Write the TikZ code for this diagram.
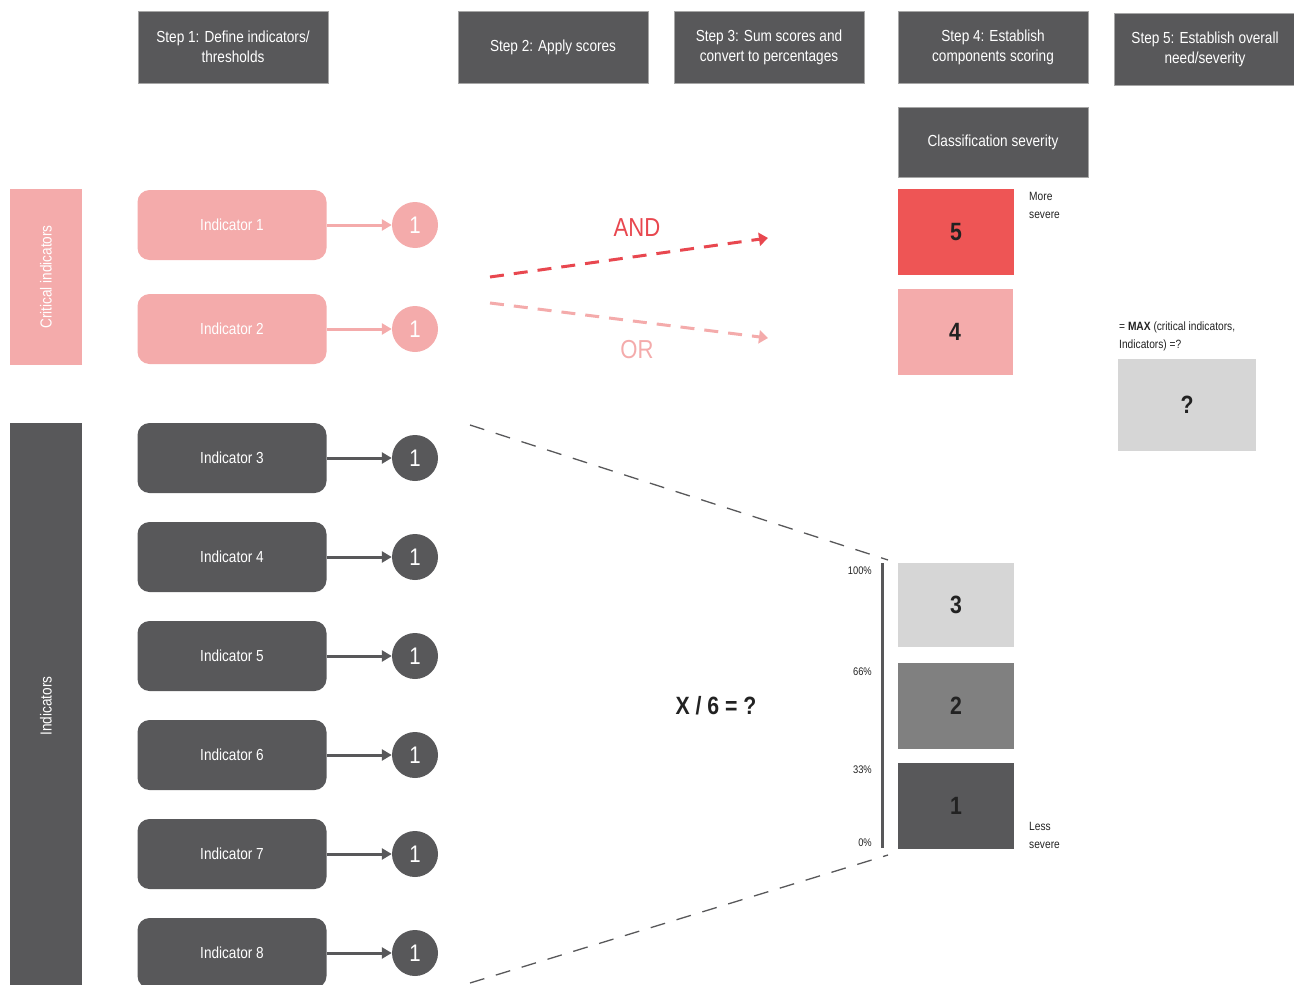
\documentclass[tikz,border=0pt]{standalone}
\usepackage{fontspec}
\setmainfont{Liberation Sans}[FakeStretch=0.85]
\usetikzlibrary{arrows.meta}
\definecolor{dk}{HTML}{58585A}
\definecolor{pk}{HTML}{F4ABAB}
\definecolor{rd}{HTML}{EE5555}
\definecolor{rdt}{HTML}{E8474F}
\definecolor{lg}{HTML}{D6D6D6}
\definecolor{mg}{HTML}{808080}
\definecolor{txk}{HTML}{222222}
\tikzset{
  hdr/.style={rectangle, fill=dk, draw=gray!70, line width=0.8pt, text=white, align=center,
    font=\fontsize{16}{20}\selectfont, minimum width=190pt, minimum height=72pt, inner sep=0pt},
  ind/.style={rectangle, rounded corners=12pt, fill=dk, text=white, minimum width=189pt,
    minimum height=70pt, inner sep=0pt, font=\fontsize{16}{19}\selectfont},
  indc/.style={ind, fill=pk},
  score/.style={circle, fill=dk, text=white, minimum size=46pt, inner sep=0pt,
    font=\fontsize{24}{24}\selectfont},
  scorec/.style={score, fill=pk},
  sev/.style={rectangle, minimum width=116pt, minimum height=86pt, inner sep=0pt,
    text=txk, font=\bfseries\fontsize{25}{25}\selectfont},
  sidebar/.style={rectangle, rotate=90, text=white, inner sep=0pt, font=\fontsize{16}{19}\selectfont},
  arr/.style={draw=dk, line width=3pt, -{Triangle[length=10pt,width=11pt]}},
  arrc/.style={arr, draw=pk},
  logic/.style={line width=3pt, dash pattern=on 14pt off 10pt, -{Triangle[length=9pt,width=13pt]}},
  guide/.style={draw=dk, line width=1.3pt, dash pattern=on 15pt off 12pt},
  small/.style={inner sep=0pt, text=txk, font=\fontsize{12}{18}\selectfont, align=left},
  pct/.style={inner sep=0pt, anchor=east, text=txk, font=\fontsize{11}{13}\selectfont},
}
\begin{document}
\begin{tikzpicture}[x=1pt,y=-1pt]
\useasboundingbox (0,0) rectangle (1294,985);
% headers
\node[hdr] (h1) at (233,47) {Step 1: Define indicators/\\thresholds};
\node[hdr] (h2) at (553,47) {Step 2: Apply scores};
\node[hdr] (h3) at (769,47) {Step 3: Sum scores and\\convert to percentages};
\node[hdr] (h4) at (993,47) {Step 4: Establish\\components scoring};
\node[hdr, minimum width=182pt] (h5) at (1205,49) {Step 5: Establish overall\\need/severity};
\node[hdr, minimum height=70pt] (cls) at (993,142) {Classification severity};
% side bars
\node[sidebar, fill=pk, minimum width=176pt, minimum height=72pt] (crit) at (46,277) {Critical indicators};
\node[sidebar, fill=dk, minimum width=567pt, minimum height=72pt] (inds) at (46,706) {Indicators};
% indicators
\node[indc] (i1) at (232,225) {Indicator 1};
\node[indc] (i2) at (232,329) {Indicator 2};
\node[ind] (i3) at (232,458) {Indicator 3};
\node[ind] (i4) at (232,557) {Indicator 4};
\node[ind] (i5) at (232,656) {Indicator 5};
\node[ind] (i6) at (232,755) {Indicator 6};
\node[ind] (i7) at (232,854) {Indicator 7};
\node[ind] (i8) at (232,953) {Indicator 8};
% scores
\node[scorec] (s1) at (415,225) {1};
\node[scorec] (s2) at (415,329) {1};
\node[score] (s3) at (415,458) {1};
\node[score] (s4) at (415,557) {1};
\node[score] (s5) at (415,656) {1};
\node[score] (s6) at (415,755) {1};
\node[score] (s7) at (415,854) {1};
\node[score] (s8) at (415,953) {1};
\draw[arrc] (i1) -- (s1);
\draw[arrc] (i2) -- (s2);
\foreach \k in {3,...,8} { \draw[arr] (i\k) -- (s\k); }
% AND / OR
\coordinate (and0) at (490,277);
\coordinate (and1) at (768,238);
\coordinate (or0) at (490,303);
\coordinate (or1) at (768,338);
\draw[logic, draw=rdt] (and0) -- (and1);
\draw[logic, draw=pk] (or0) -- (or1);
\node[text=rdt, font=\fontsize{26}{26}\selectfont] (andl) at (637,228) {AND};
\node[text=pk, font=\fontsize{26}{26}\selectfont] (orl) at (637,350) {OR};
% severity boxes
\node[sev, fill=rd] (c5) at (956,232) {5};
\node[sev, fill=pk, minimum width=115pt] (c4) at (955,332) {4};
\node[sev, fill=lg, minimum height=84pt] (c3) at (956,605) {3};
\node[sev, fill=mg] (c2) at (956,706) {2};
\node[sev, fill=dk] (c1) at (956,806) {1};
\node[small, anchor=north west] (more) at (1029,192) {More\\severe};
\node[small, anchor=north west] (less) at (1029,822) {Less\\severe};
% scale
\coordinate (bt) at (882,563);
\coordinate (bb) at (882,848);
\draw[dk, line width=3pt] (bt) -- (bb);
\node[pct] (p100) at (872,571) {100\%};
\node[pct] (p66) at (872,672) {66\%};
\node[pct] (p33) at (872,770) {33\%};
\node[pct] (p0) at (872,843) {0\%};
% guides
\coordinate (g1) at (470,425);
\coordinate (g2) at (888,560);
\coordinate (g3) at (470,983);
\coordinate (g4) at (888,855);
\draw[guide] (g1) -- (g2);
\draw[guide] (g3) -- (g4);
\node[text=txk, font=\bfseries\fontsize{25}{25}\selectfont] (xeq) at (716,706) {X / 6 = ?};
% step 5
\node[small, anchor=north west] (maxt) at (1119,322) {= \textbf{MAX} (critical indicators,\\Indicators) =?};
\node[sev, fill=lg, minimum width=138pt, minimum height=92pt] (q) at (1187,405) {?};
\end{tikzpicture}
\end{document}
